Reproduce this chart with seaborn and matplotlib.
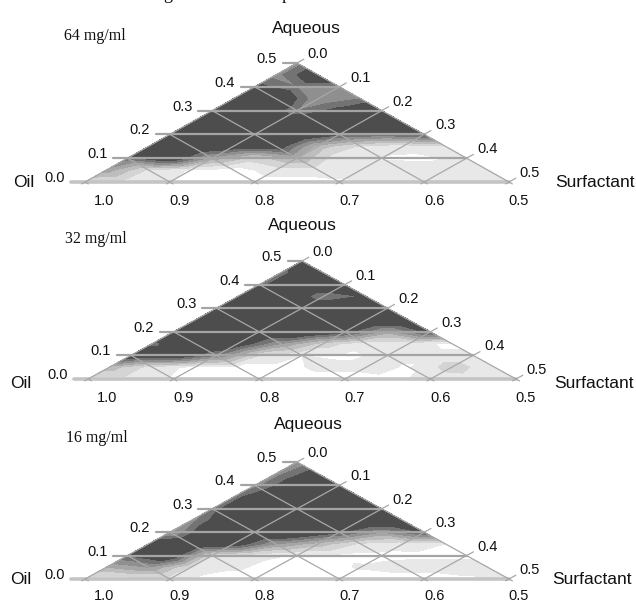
import matplotlib
matplotlib.use("Agg")

import numpy as np
import matplotlib.pyplot as plt
import seaborn as sns

# contour score on the ternary lattice, rows go from aqueous 0.0 to 0.5 (step 0.05)
# in each row surfactant runs 0.0, 0.05, ... up to the right edge
score_64 = [
    [2, 1.5, 1, 0.5, 0.5, 0.5, 0.8, 1.2, 1.5, 1.5, 1.5],
    [4.5, 1.8, 0.9, 0.5, 1.5, 1.5, 1.5, 1.5, 1.5, 1.5],
    [6.5, 8.5, 4.5, 2.5, 4, 1.2, 0.9, 0.8, 1.2],
    [9, 9, 8, 8, 3.5, 1.8, 1.3, 1.8],
    [9, 9, 9, 9, 7.2, 6.5, 7.3],
    [9, 9, 9, 9, 9, 9],
    [9, 9, 6, 7.5, 9],
    [9, 9, 5, 6],
    [7.5, 6, 6],
    [5.5, 8.5],
    [5.5],
]
score_32 = [
    [1.5, 1.5, 0.9, 0.5, 0.5, 0.5, 0.5, 0.8, 1.2, 1.5, 1.5],
    [3.5, 1.5, 0.7, 0.6, 0.6, 1.3, 1.3, 0.9, 2.5, 1.3],
    [8.5, 8.5, 6, 2, 1, 0.8, 1.2, 1.2, 1.2],
    [6.5, 9, 8, 5, 2.5, 1.3, 1.3, 0.8],
    [9, 9, 9, 9, 7.5, 4.5, 7.5],
    [9, 9, 9, 9, 9, 9],
    [9, 9, 9, 9, 9],
    [9, 9, 6, 7.2],
    [6.5, 9, 9],
    [6.5, 9],
    [8],
]
score_16 = [
    [1.5, 1.5, 1.5, 0.5, 0.5, 0.5, 0.5, 0.5, 0.5, 0.8, 1.5],
    [4, 5, 1.8, 1.2, 0.6, 0.6, 1.1, 1.4, 1.4, 1.4],
    [7, 8.5, 2, 1.3, 0.9, 0.8, 0.7, 0.8, 0.8],
    [8.5, 9, 8, 5, 3.5, 1.8, 1.4, 1],
    [4.5, 9, 9, 9, 7.2, 5, 7.2],
    [5.5, 9, 9, 9, 9, 9],
    [6.5, 9, 9, 9, 9],
    [6.5, 9, 9, 9],
    [5.5, 8.5, 9],
    [5.5, 8],
    [5],
]

concentrations = ["64 mg/ml", "32 mg/ml", "16 mg/ml"]
oil_labels = ["1.0", "0.9", "0.8", "0.7", "0.6", "0.5"]
aqueous_labels = ["0.0", "0.1", "0.2", "0.3", "0.4", "0.5"]
surfactant_labels = ["0.0", "0.1", "0.2", "0.3", "0.4", "0.5"]

levels = [0, 1, 2, 3, 4, 5, 6, 7, 10]
greys = ["#ffffff", "#e8e8e8", "#d4d4d4", "#bdbdbd", "#a6a6a6", "#8f8f8f", "#737373", "#4d4d4d"]
LINE = "#a8a8a8"
INK = "#111111"

W, H = 636, 602
sns.set_theme(style="white")
plt.rcParams["font.family"] = ["Liberation Sans", "DejaVu Sans"]

fig = plt.figure(figsize=(W / 100, H / 100), dpi=100, facecolor="white")


def px_text(x, y, s, **kw):
    fig.text(x / W, 1 - y / H, s, color=INK, **kw)


def ternary_xy(surfactant, aqueous):
    return np.asarray(surfactant) + np.asarray(aqueous) / 2, np.asarray(aqueous)


def draw_panel(score, left, right, bottom, top, conc, conc_xy, oil_xy, surf_xy, aq_xy, low=19):
    ax = fig.add_axes([left / W, 1 - bottom / H, (right - left) / W, (bottom - top) / H])
    ax.set_xlim(0, 0.5)
    ax.set_ylim(0, 0.5)
    ax.axis("off")
    over = 14 / ((right - left) / 0.5)

    surf, aq, z = [], [], []
    for j, row in enumerate(score):
        for i, val in enumerate(row):
            surf.append(i * 0.05)
            aq.append(j * 0.05)
            z.append(val)
    x, y = ternary_xy(surf, aq)
    ax.tricontourf(x, y, z, levels=levels, colors=greys)

    def line(s0, a0, s1, a1, lw=0.9, color=LINE):
        xs, ys = ternary_xy([s0, s1], [a0, a1])
        sns.lineplot(x=xs, y=ys, ax=ax, color=color, lw=lw, sort=False, estimator=None,
                     legend=False, clip_on=False)

    for k, t in enumerate([0.0, 0.1, 0.2, 0.3, 0.4, 0.5]):
        # constant aqueous, sticks out past the left edge
        if t == 0:
            line(-over, t, 0.5 - t, t, 2.6, "#c4c4c4")
        else:
            line(-over, t, 0.5 - t, t, 1.6, "#a4a4a4")
        # constant surfactant, overshoots right edge and bottom
        line(t, -0.008, t, 0.5 - t + 0.016)
        # constant oil, from bottom up to left edge
        line(t + 0.008, -0.008, 0, t)

        def label(s, a, text, dx, dy):
            ax.annotate(text, (s + a / 2, a), xytext=(dx * 0.72, -dy * 0.72),
                        textcoords="offset points", ha="center", va="center",
                        fontsize=10.5, color=INK, annotation_clip=False)

        label(0, t, aqueous_labels[k], -30, -4)
        label(t, 0.5 - t, surfactant_labels[k], 21, -9)
        label(t, 0, oil_labels[k], 19 if k == 0 else 10, low)

    px_text(*conc_xy, conc, family="Liberation Serif", fontsize=11.5, va="center", ha="left")
    px_text(*oil_xy, "Oil", fontsize=12.5, va="center", ha="center")
    px_text(*surf_xy, "Surfactant", fontsize=12.5, va="center", ha="left")
    px_text(*aq_xy, "Aqueous", fontsize=12.5, va="center", ha="center")


draw_panel(score_64, 85, 509, 182, 63, concentrations[0], (64, 36), (24, 183), (555, 183), (306, 28))
draw_panel(score_32, 88, 516, 379, 261, concentrations[1], (65, 239), (21, 383), (554, 383), (302, 225))
draw_panel(score_16, 85, 509, 579, 462, concentrations[2], (66, 438), (21, 579), (552, 579), (308, 425), low=17)

# what is left of the cropped heading at the very top
px_text(163, -1, "g", family="Liberation Serif", fontsize=13, va="baseline")
px_text(282, -1, "p", family="Liberation Serif", fontsize=13, va="baseline")

fig.savefig("out.png", dpi=100)
plt.close(fig)
